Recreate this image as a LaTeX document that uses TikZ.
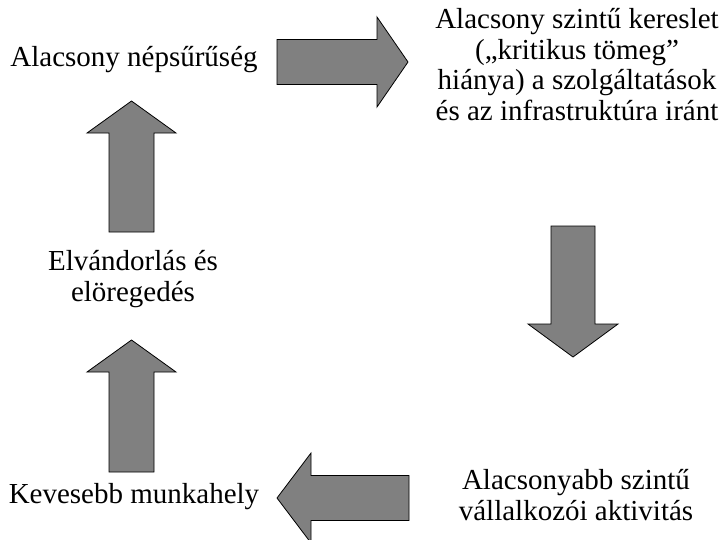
\documentclass[tikz,border=0pt]{standalone}
\usepackage{fontspec}
\setmainfont{Liberation Serif}
\begin{document}
\begin{tikzpicture}[x=1pt,y=-1pt,
  blockarrow/.style={draw=black, line width=0.8pt, fill=black!50, line join=miter},
  label/.style={inner sep=0pt, anchor=base, align=center, font=\fontsize{29}{30.5}\selectfont}]
\useasboundingbox (0,0) rectangle (725,539);
% texts (anchor base = baseline of the last line)
\node[label] (t1) at (134,66) {Alacsony népsűrűség};
\node[label] (t2) at (577,120) {Alacsony szintű kereslet\\(„kritikus tömeg”\\hiánya) a szolgáltatások\\és az infrastruktúra iránt};
\node[label] (t3) at (576,520) {Alacsonyabb szintű\\vállalkozói aktivitás};
\node[label] (t4) at (134,503) {Kevesebb munkahely};
\node[label] (t5) at (133,301) {Elvándorlás és\\elöregedés};
% block arrows
\draw[blockarrow] (277,39.5) -- (377,39.5) -- (377,17) -- (408,62) -- (377,107) -- (377,84.5) -- (277,84.5) -- cycle;
\draw[blockarrow] (551,226) -- (595,226) -- (595,324) -- (618,324) -- (573,357) -- (528,324) -- (551,324) -- cycle;
\draw[blockarrow] (409,475.5) -- (311,475.5) -- (311,453) -- (277,498) -- (311,543) -- (311,520.5) -- (409,520.5) -- cycle;
\draw[blockarrow] (109,232) -- (109,133) -- (87,133) -- (131.5,101) -- (176,133) -- (154,133) -- (154,232) -- cycle;
\draw[blockarrow] (109,472) -- (109,372) -- (87,372) -- (131.5,340) -- (176,372) -- (154,372) -- (154,472) -- cycle;
\end{tikzpicture}
\end{document}
